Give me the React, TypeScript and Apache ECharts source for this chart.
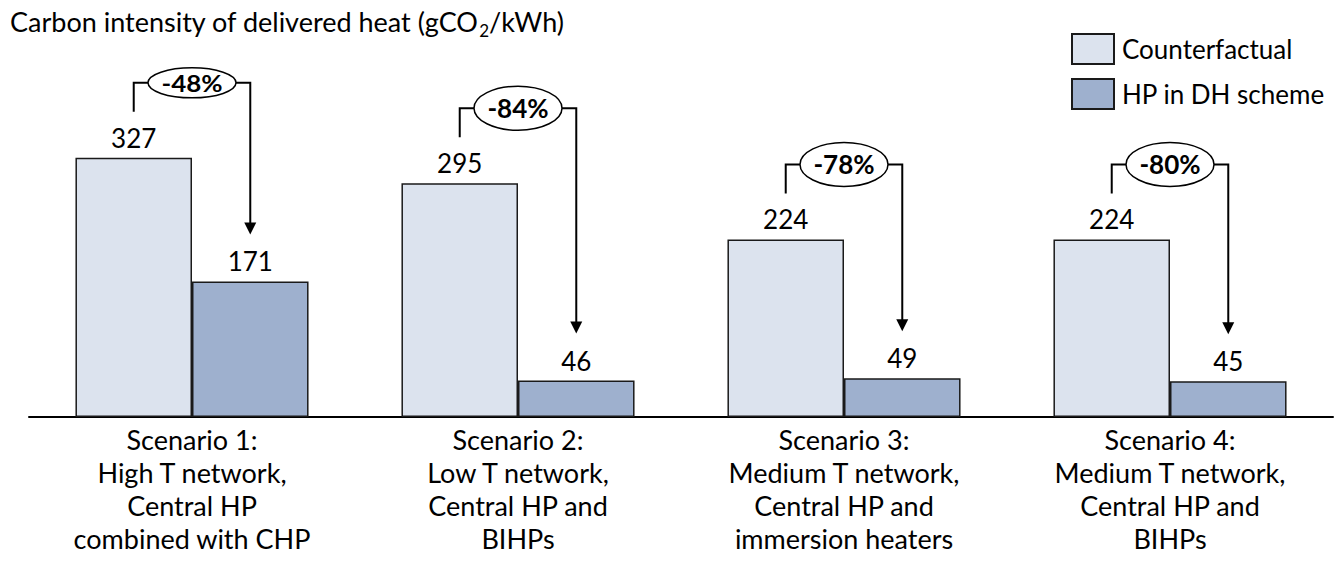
import React, { useEffect, useRef } from "react";
import * as echarts from "echarts";

const categories = [
  "Scenario 1:\nHigh T network,\nCentral HP\ncombined with CHP",
  "Scenario 2:\nLow T network,\nCentral HP and\nBIHPs",
  "Scenario 3:\nMedium T network,\nCentral HP and\nimmersion heaters",
  "Scenario 4:\nMedium T network,\nCentral HP and\nBIHPs",
];
const counterfactual = [327, 295, 224, 224];
const hpInDH = [171, 46, 49, 45];
const reductions = ["-48%", "-84%", "-78%", "-80%"];
const seriesNames = ["Counterfactual", "HP in DH scheme"];

const FONT = "Lato";
const CAT_GAP = 0.285;

export default function App() {
  const ref = useRef<HTMLDivElement>(null);
  useEffect(() => {
    if (!ref.current) return;
    const chart = echarts.init(ref.current, null, { renderer: "svg" });
    const bracketData = categories.map((_, i) => [i, counterfactual[i], hpInDH[i], reductions[i]]);
    chart.setOption({
      animation: false,
      backgroundColor: "#ffffff",
      textStyle: { fontFamily: FONT },
      title: {
        text: "Carbon intensity of delivered heat (gCO{sub|2}/kWh)",
        left: 10,
        top: 3,
        padding: 0,
        textStyle: {
          fontFamily: FONT,
          fontSize: 27,
          fontWeight: "normal",
          color: "#000",
          rich: {
            sub: { fontFamily: FONT, fontSize: 17, color: "#000", verticalAlign: "bottom", lineHeight: 36 },
          },
        },
      },
      legend: {
        orient: "vertical",
        left: 1071,
        top: 33,
        padding: 0,
        itemWidth: 42,
        itemHeight: 30,
        itemGap: 13,
        icon: "rect",
        data: seriesNames,
        textStyle: { fontFamily: FONT, fontSize: 26, color: "#000", padding: [0, 0, 0, 3] },
      },
      grid: { left: 29, right: 5, top: 100, bottom: 145, containLabel: false },
      xAxis: {
        type: "category",
        data: categories,
        axisLine: { show: true, lineStyle: { color: "#000", width: 2 } },
        axisTick: { show: false },
        axisLabel: {
          fontFamily: FONT,
          fontSize: 27,
          lineHeight: 33,
          color: "#000",
          margin: 6,
          interval: 0,
        },
      },
      yAxis: {
        type: "value",
        min: 0,
        max: 400,
        show: false,
        splitLine: { show: false },
      },
      series: [
        {
          name: seriesNames[0],
          type: "bar",
          data: counterfactual,
          barGap: "0%",
          barCategoryGap: CAT_GAP * 100 + "%",
          itemStyle: { color: "#dce3ee", borderColor: "#1a1a1a", borderWidth: 1.5 },
          label: { show: true, position: "top", distance: 7, fontFamily: FONT, fontSize: 26, color: "#000" },
        },
        {
          name: seriesNames[1],
          type: "bar",
          data: hpInDH,
          itemStyle: { color: "#9eb0ce", borderColor: "#1a1a1a", borderWidth: 1.5 },
          label: { show: true, position: "top", distance: 7, fontFamily: FONT, fontSize: 26, color: "#000" },
        },
        {
          type: "custom",
          clip: false,
          silent: true,
          encode: { x: 0, y: 1 },
          data: bracketData,
          z: 10,
          renderItem: (params: any, api: any) => {
            const idx = api.value(0);
            const base = api.coord([idx, 0]);
            const cx = base[0];
            const bandW = api.size([1, 0])[0];
            const barW = (bandW * (1 - CAT_GAP)) / 2;
            const x1 = cx - barW / 2;
            const x2 = cx + barW / 2;
            const y1 = api.coord([idx, api.value(1)])[1];
            const y2 = api.coord([idx, api.value(2)])[1];
            const hy = y1 - 75;
            const flat = params.dataIndex === 0;
            const rx = 44;
            const ry = flat ? 15 : 22;
            const tipY = y2 - 47;
            const head = 12;
            const label = reductions[params.dataIndex];
            const line = { stroke: "#000", lineWidth: 2, fill: null };
            return {
              type: "group",
              children: [
                { type: "polyline", shape: { points: [[x1, y1 - 46], [x1, hy], [cx - rx, hy]] }, style: line },
                { type: "polyline", shape: { points: [[cx + rx, hy], [x2, hy], [x2, tipY - head + 1]] }, style: line },
                {
                  type: "polygon",
                  shape: { points: [[x2 - 6, tipY - head], [x2 + 6, tipY - head], [x2, tipY]] },
                  style: { fill: "#000" },
                },
                { type: "ellipse", shape: { cx, cy: hy, rx, ry }, style: { fill: "#fff", stroke: "#000", lineWidth: 1.5 } },
                {
                  type: "text",
                  x: cx,
                  y: hy,
                  scaleY: flat ? 0.85 : 1,
                  style: {
                    text: label,
                    fontFamily: FONT,
                    fontSize: 26,
                    fontWeight: "bold",
                    fill: "#000",
                    align: "center",
                    verticalAlign: "middle",
                  },
                },
              ],
            };
          },
        },
      ],
    });
    return () => chart.dispose();
  }, []);
  return <div ref={ref} style={{ position: "absolute", left: 0, top: 0, width: 1338, height: 562 }} />;
}
